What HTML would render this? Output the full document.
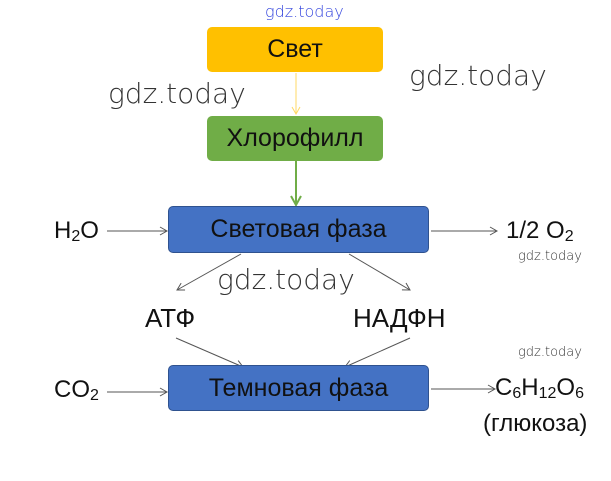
<!DOCTYPE html>
<html><head><meta charset="utf-8"><style>
body{margin:0;width:611px;height:481px;background:#fff;position:relative;overflow:hidden;font-family:"Liberation Sans",sans-serif}
.b{position:absolute;border-radius:5px;display:flex;align-items:center;justify-content:center;font-size:25px;color:#111;box-sizing:border-box}
.t{position:absolute;font-size:24px;color:#111;white-space:nowrap;line-height:1}
.w{position:absolute;color:#333;font-family:"DejaVu Sans",sans-serif;font-weight:200;white-space:nowrap;line-height:1}
sub{font-size:16px;vertical-align:-3px}
</style></head><body>
<svg width="611" height="481" style="position:absolute;left:0;top:0">
<defs>
<marker id="g" markerWidth="10" markerHeight="10" refX="8" refY="5" orient="auto" markerUnits="userSpaceOnUse"><path d="M1,1 L8,5 L1,9" fill="none" stroke="#555" stroke-width="1"/></marker>
<marker id="y" markerWidth="10" markerHeight="10" refX="8" refY="5" orient="auto" markerUnits="userSpaceOnUse"><path d="M1,1 L8,5 L1,9" fill="none" stroke="#FFD966" stroke-width="1"/></marker>
<marker id="gr" markerWidth="12" markerHeight="12" refX="10" refY="6" orient="auto" markerUnits="userSpaceOnUse"><path d="M1,1 L10,6 L1,11" fill="none" stroke="#70AD47" stroke-width="2"/></marker>
</defs>
<line x1="296" y1="73" x2="296" y2="114" stroke="#FFD966" stroke-width="1" marker-end="url(#y)"/>
<line x1="296" y1="161" x2="296" y2="205" stroke="#70AD47" stroke-width="2" marker-end="url(#gr)"/>
<g stroke="#555" stroke-width="1" fill="none">
<line x1="107" y1="231" x2="167" y2="231" marker-end="url(#g)"/>
<line x1="431" y1="231" x2="497" y2="231" marker-end="url(#g)"/>
<line x1="241" y1="254" x2="177" y2="290" marker-end="url(#g)"/>
<line x1="349" y1="254" x2="410" y2="290" marker-end="url(#g)"/>
<line x1="176" y1="338" x2="243" y2="367" marker-end="url(#g)"/>
<line x1="410" y1="338" x2="345" y2="367" marker-end="url(#g)"/>
<line x1="107" y1="392" x2="167" y2="392" marker-end="url(#g)"/>
<line x1="431" y1="389" x2="495" y2="389" marker-end="url(#g)"/>
</g>
</svg>
<div class="b" style="left:207px;top:27px;width:176px;height:45px;background:#FFC000">Свет</div>
<div class="b" style="left:207px;top:116px;width:176px;height:45px;background:#70AD47">Хлорофилл</div>
<div class="b" style="left:168px;top:206px;width:261px;height:47px;background:#4472C4;border:1px solid #2F528F">Световая фаза</div>
<div class="b" style="left:168px;top:365px;width:261px;height:46px;background:#4472C4;border:1px solid #2F528F">Темновая фаза</div>
<div class="t" style="left:54px;top:219px">H<sub>2</sub>O</div>
<div class="t" style="left:506px;top:219px">1/2 O<sub>2</sub></div>
<div class="t" style="left:145px;top:305px;font-size:26px">АТФ</div>
<div class="t" style="left:353px;top:305px;font-size:26px">НАДФН</div>
<div class="t" style="left:54px;top:378px">CO<sub>2</sub></div>
<div class="t" style="left:495px;top:376px">C<sub>6</sub>H<sub>12</sub>O<sub>6</sub></div>
<div class="t" style="left:483px;top:412px">(глюкоза)</div>
<div class="w" style="left:265px;top:4px;font-size:16px;color:#3344dd">gdz.today</div>
<div class="w" style="left:108px;top:80px;font-size:28px">gdz.today</div>
<div class="w" style="left:409px;top:62px;font-size:28px">gdz.today</div>
<div class="w" style="left:217px;top:266px;font-size:28px">gdz.today</div>
<div class="w" style="left:518px;top:250px;font-size:13px">gdz.today</div>
<div class="w" style="left:518px;top:346px;font-size:13px">gdz.today</div>
</body></html>
